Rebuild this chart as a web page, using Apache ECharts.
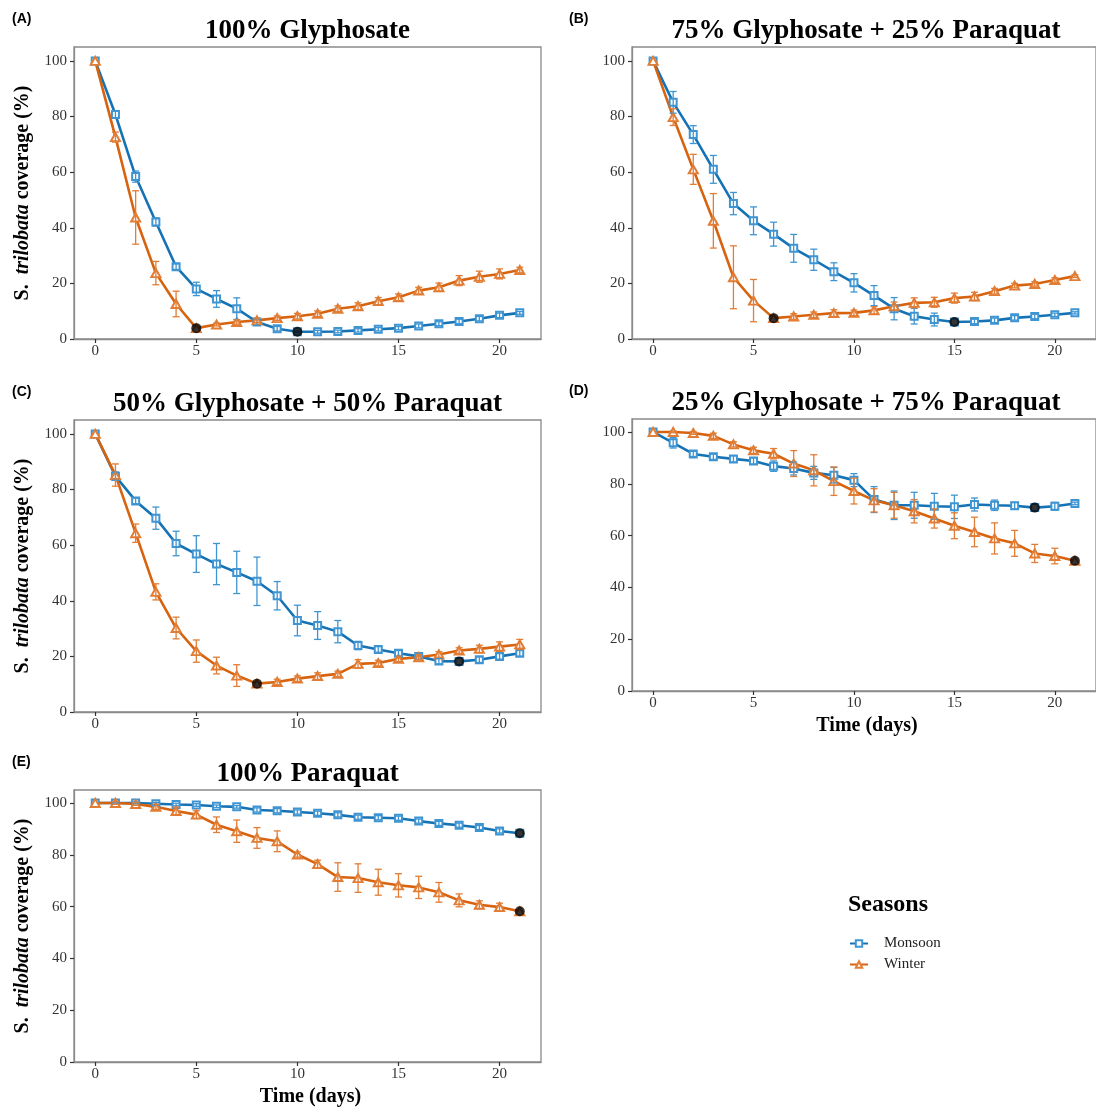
<!DOCTYPE html>
<html>
<head>
<meta charset="utf-8">
<script src="https://cdn.jsdelivr.net/npm/echarts@6/dist/echarts.min.js"></script>
<style>
  body { margin: 0; background: #fff; }
  #main { width: 1096px; height: 1108px; }
</style>
</head>
<body>
<div id="main"></div>
<script>
// days after spraying
var days = [0, 1, 2, 3, 4, 5, 6, 7, 8, 9, 10, 11, 12, 13, 14, 15, 16, 17, 18, 19, 20, 21];

// (A) 100% Glyphosate
var glyMonsoon = [100, 80.7, 58.4, 42.1, 26.0, 18.0, 14.4, 10.9, 6.1, 3.7, 2.6, 2.6, 2.7, 3.1, 3.5, 3.9, 4.7, 5.5, 6.3, 7.3, 8.5, 9.4];
var glyMonsoonErr = [0, 1.2, 2, 1.5, 1, 2.4, 3, 3.9, 1.2, 0.8, 0.3, 0.5, 0.5, 0.6, 0.6, 0.6, 0.7, 0.7, 0.8, 0.8, 0.8, 0.5];
var glyWinter = [100, 72.6, 43.7, 23.7, 12.6, 3.9, 5.2, 6.1, 6.7, 7.5, 8.2, 9.1, 10.9, 11.8, 13.6, 15.0, 17.4, 18.6, 21.0, 22.4, 23.4, 24.8];
var glyWinterErr = [0, 1.8, 9.6, 4.2, 4.6, 0, 0.5, 0.8, 0.8, 0.8, 1, 1, 1, 1.2, 1.3, 1.2, 1.2, 1.5, 1.8, 2, 1.8, 1];

// (B) 75% Glyphosate + 25% Paraquat
var g75Monsoon = [100, 85.1, 73.5, 61.0, 48.7, 42.5, 37.7, 32.6, 28.5, 24.2, 20.2, 15.6, 10.9, 8.2, 7.0, 6.1, 6.3, 6.7, 7.6, 8.1, 8.7, 9.4];
var g75MonsoonErr = [0, 3.9, 3.2, 5, 4, 5, 4.3, 5, 3.8, 3.2, 3.3, 3.6, 4, 2.8, 2.3, 0, 0.8, 0.8, 0.8, 0.8, 0.6, 0.4];
var g75Winter = [100, 79.8, 61.0, 42.5, 22.2, 13.8, 7.5, 8.1, 8.7, 9.3, 9.4, 10.3, 11.8, 13.0, 13.2, 14.7, 15.3, 17.2, 19.2, 19.8, 21.2, 22.6];
var g75WinterErr = [0, 3, 5.4, 9.8, 11.3, 7.6, 0, 1, 1, 1.2, 1, 1.3, 1.5, 1.8, 1.8, 1.8, 1.5, 1, 0.8, 0.8, 0.8, 0.5];

// (C) 50% Glyphosate + 50% Paraquat
var g50Monsoon = [100, 84.8, 75.9, 69.7, 60.6, 56.8, 53.2, 50.2, 47.0, 41.8, 32.9, 31.1, 28.9, 23.9, 22.5, 21.1, 20.0, 18.3, 18.2, 18.8, 20.0, 21.1];
var g50MonsoonErr = [0, 1.5, 1, 4, 4.4, 6.6, 7.4, 7.6, 8.7, 5.1, 5.5, 5, 4, 1.5, 1, 1, 1, 1, 0, 1, 1, 1];
var g50Winter = [100, 85.2, 64.3, 43.2, 30.2, 21.9, 16.7, 13.1, 10.2, 10.8, 12.0, 12.9, 13.7, 17.3, 17.6, 19.1, 19.7, 20.7, 22.1, 22.7, 23.5, 24.3];
var g50WinterErr = [0, 4, 3.3, 2.9, 3.9, 4, 3, 3.9, 0, 1, 1, 1.2, 1, 1.5, 1, 1, 1, 1, 1, 1.3, 1.7, 1.8];

// (D) 25% Glyphosate + 75% Paraquat
var g25Monsoon = [100, 95.8, 91.5, 90.4, 89.6, 88.8, 86.8, 85.9, 84.2, 83.3, 81.4, 73.9, 71.7, 71.7, 71.3, 71.1, 72.0, 71.7, 71.5, 70.8, 71.3, 72.4];
var g25MonsoonErr = [0, 2, 1, 1, 1.2, 1.2, 2, 2.5, 2.5, 3, 2.5, 5, 5.5, 5, 5, 4.5, 2.5, 2, 1.3, 0, 1.5, 0.5];
var g25Winter = [100, 100, 99.6, 98.5, 95.2, 92.9, 91.6, 87.8, 85.2, 81.0, 77.2, 73.6, 71.7, 69.4, 66.6, 63.8, 61.4, 58.9, 57.0, 53.1, 52.1, 50.3];
var g25WinterErr = [0, 0.3, 0.5, 1, 1, 1.2, 2, 5, 6, 5.5, 5, 4.5, 5, 4.5, 3.7, 5, 5.7, 6, 5, 3.5, 3, 0];

// (E) 100% Paraquat
var parMonsoon = [100, 100, 100, 99.7, 99.4, 99.2, 98.7, 98.5, 97.3, 97.0, 96.5, 96.0, 95.4, 94.5, 94.3, 94.1, 93.0, 92.1, 91.4, 90.5, 89.2, 88.3];
var parMonsoonErr = [0, 0.3, 0.3, 0.5, 0.5, 0.5, 0.5, 0.5, 0.8, 0.8, 0.8, 0.8, 0.8, 0.8, 0.8, 0.8, 0.8, 0.8, 0.8, 0.8, 0.8, 0];
var parWinter = [100, 100, 99.6, 98.5, 96.9, 95.5, 91.6, 89.1, 86.5, 85.2, 80.1, 76.4, 71.4, 71.0, 69.4, 68.2, 67.4, 65.5, 62.4, 60.7, 59.8, 58.2];
var parWinterErr = [0, 0.5, 0.5, 1, 1.5, 1.5, 3, 4.3, 4, 4, 1, 1.5, 5.5, 5.5, 5, 4.5, 4.3, 3.8, 2.5, 1.5, 1.5, 0];

// day of the marked (black) point, per panel: [monsoon day, winter day]
var markedDays = [[10, 5], [15, 6], [18, 8], [19, 21], [21, 21]];

var panelLabels = ['(A)', '(B)', '(C)', '(D)', '(E)'];
var panelTitles = ['100% Glyphosate', '75% Glyphosate + 25% Paraquat', '50% Glyphosate + 50% Paraquat',
    '25% Glyphosate + 75% Paraquat', '100% Paraquat'];
var xTicks = [0, 5, 10, 15, 20];
var yTicks = [0, 20, 40, 60, 80, 100];

var monsoonSets = [[glyMonsoon, glyMonsoonErr], [g75Monsoon, g75MonsoonErr], [g50Monsoon, g50MonsoonErr], [g25Monsoon, g25MonsoonErr], [parMonsoon, parMonsoonErr]];
var winterSets = [[glyWinter, glyWinterErr], [g75Winter, g75WinterErr], [g50Winter, g50WinterErr], [g25Winter, g25WinterErr], [parWinter, parWinterErr]];

// layout
var grids = [
    { left: 74, top: 47, width: 467, height: 292 },
    { left: 632, top: 47, width: 468, height: 292 },
    { left: 74, top: 420, width: 467, height: 292 },
    { left: 632, top: 419, width: 468, height: 272 },
    { left: 74, top: 790, width: 467, height: 272 }
];
var showYName = [true, false, true, false, true];
var showXName = [false, false, false, true, true];

var BLUE = '#1573b5', BLUE_PT = '#3f95d2';
var ORANGE = '#d8630f', ORANGE_PT = '#e27d35';
var SERIF = '"Liberation Serif", "Times New Roman", serif';

function toLine(vals) {
    return days.map(function (d, i) { return [d, vals[i]]; });
}
function toErr(vals, errs) {
    return days.map(function (d, i) { return [d, vals[i] - errs[i], vals[i] + errs[i]]; });
}
function errorBars(color) {
    return function (params, api) {
        var x = api.value(0), lo = api.value(1), hi = api.value(2);
        if (hi - lo < 0.05) return null;
        var top = api.coord([x, hi]), bot = api.coord([x, lo]);
        var w = 3.5;
        var st = { stroke: color, lineWidth: 1.3 };
        return {
            type: 'group', children: [
                { type: 'line', shape: { x1: top[0], y1: top[1], x2: bot[0], y2: bot[1] }, style: st },
                { type: 'line', shape: { x1: top[0] - w, y1: top[1], x2: top[0] + w, y2: top[1] }, style: st },
                { type: 'line', shape: { x1: bot[0] - w, y1: bot[1], x2: bot[0] + w, y2: bot[1] }, style: st }
            ]
        };
    };
}

var gridOpts = [], xAxes = [], yAxes = [], series = [], graphics = [];

grids.forEach(function (g, i) {
    gridOpts.push({
        left: g.left, top: g.top, width: g.width, height: g.height,
        show: true, borderColor: '#8a8a8a', borderWidth: 1.3, backgroundColor: 'transparent'
    });
    xAxes.push({
        gridIndex: i, type: 'value', min: -1.05, max: 22.05,
        splitLine: { show: false },
        axisLine: { show: true, onZero: false, lineStyle: { color: '#8a8a8a', width: 1.3 } },
        axisTick: { show: true, length: 4, customValues: xTicks, lineStyle: { color: '#333', width: 1.2 } },
        axisLabel: { customValues: xTicks, fontFamily: SERIF, fontSize: 15, color: '#333', margin: 5 },
        name: showXName[i] ? 'Time (days)' : '',
        nameLocation: 'middle', nameGap: 25,
        nameTextStyle: { fontFamily: SERIF, fontWeight: 'bold', fontSize: 20, color: '#000', padding: [0, 0, 0, 6] }
    });
    yAxes.push({
        gridIndex: i, type: 'value', min: 0, max: 105,
        splitLine: { show: false },
        axisLine: { show: true, onZero: false, lineStyle: { color: '#8a8a8a', width: 1.3 } },
        axisTick: { show: true, length: 4, customValues: yTicks, lineStyle: { color: '#333', width: 1.2 } },
        axisLabel: { customValues: yTicks, fontFamily: SERIF, fontSize: 15, color: '#333', margin: 7 }
    });

    var mon = monsoonSets[i], win = winterSets[i];
    series.push({
        type: 'custom', name: 'monsoonErr', xAxisIndex: i, yAxisIndex: i, z: 3,
        renderItem: errorBars(BLUE_PT), data: toErr(mon[0], mon[1]), silent: true
    });
    series.push({
        type: 'custom', name: 'winterErr', xAxisIndex: i, yAxisIndex: i, z: 3,
        renderItem: errorBars(ORANGE_PT), data: toErr(win[0], win[1]), silent: true
    });
    series.push({
        type: 'line', name: 'Monsoon', xAxisIndex: i, yAxisIndex: i, z: 2,
        data: toLine(mon[0]), symbol: 'emptyRect', symbolSize: 7,
        lineStyle: { color: BLUE, width: 2.6 },
        itemStyle: { color: BLUE_PT, borderWidth: 1.3 }
    });
    series.push({
        type: 'line', name: 'Winter', xAxisIndex: i, yAxisIndex: i, z: 2,
        data: toLine(win[0]), symbol: 'emptyTriangle', symbolSize: [9, 8],
        lineStyle: { color: ORANGE, width: 2.6 },
        itemStyle: { color: ORANGE_PT, borderWidth: 1.3 }
    });
    var md = markedDays[i];
    series.push({
        type: 'scatter', name: 'marked', xAxisIndex: i, yAxisIndex: i, z: 5,
        symbol: 'circle', symbolSize: 10, itemStyle: { color: '#000' },
        data: [[md[0], mon[0][days.indexOf(md[0])]], [md[1], win[0][days.indexOf(md[1])]]]
    });

    // panel label and title
    var cx = g.left + g.width / 2;
    graphics.push({
        type: 'text', x: g.left === 74 ? 12 : 569, y: g.top - 28,
        style: { text: panelLabels[i], fontFamily: '"Liberation Sans", Arial, sans-serif', fontWeight: 'bold', fontSize: 14, fill: '#000', verticalAlign: 'middle' }
    });
    graphics.push({
        type: 'text', x: cx, y: g.top - 16,
        style: { text: panelTitles[i], fontFamily: SERIF, fontWeight: 'bold', fontSize: 27, fill: '#000', align: 'center', verticalAlign: 'middle' }
    });
    if (showYName[i]) {
        graphics.push({
            type: 'text', x: 23, y: g.top + g.height / 2, rotation: Math.PI / 2,
            style: {
                text: '{n|S.}  {i|trilobata} {n|coverage (%)}',
                align: 'center', verticalAlign: 'middle',
                rich: {
                    n: { fontFamily: SERIF, fontWeight: 'bold', fontSize: 20, fill: '#000' },
                    i: { fontFamily: SERIF, fontWeight: 'bold', fontStyle: 'italic', fontSize: 20, fill: '#000' }
                },
                fontFamily: SERIF, fontWeight: 'bold', fontSize: 20, fill: '#000'
            }
        });
    }
});

graphics.push({
    type: 'text', x: 848, y: 905,
    style: { text: 'Seasons', fontFamily: SERIF, fontWeight: 'bold', fontSize: 24, fill: '#000', verticalAlign: 'middle' }
});

var myChart = echarts.init(document.getElementById('main'), null, { renderer: 'canvas' });
var option = {
    backgroundColor: '#fff',
    animation: false,
    grid: gridOpts,
    xAxis: xAxes,
    yAxis: yAxes,
    legend: {
        data: ['Monsoon', 'Winter'],
        orient: 'vertical', left: 844, top: 931,
        itemWidth: 18, itemHeight: 8, itemGap: 6,
        textStyle: { fontFamily: SERIF, fontSize: 15, color: '#222', padding: [0, 0, 0, 11] }
    },
    graphic: graphics,
    series: series
};
myChart.setOption(option);
</script>
</body>
</html>
